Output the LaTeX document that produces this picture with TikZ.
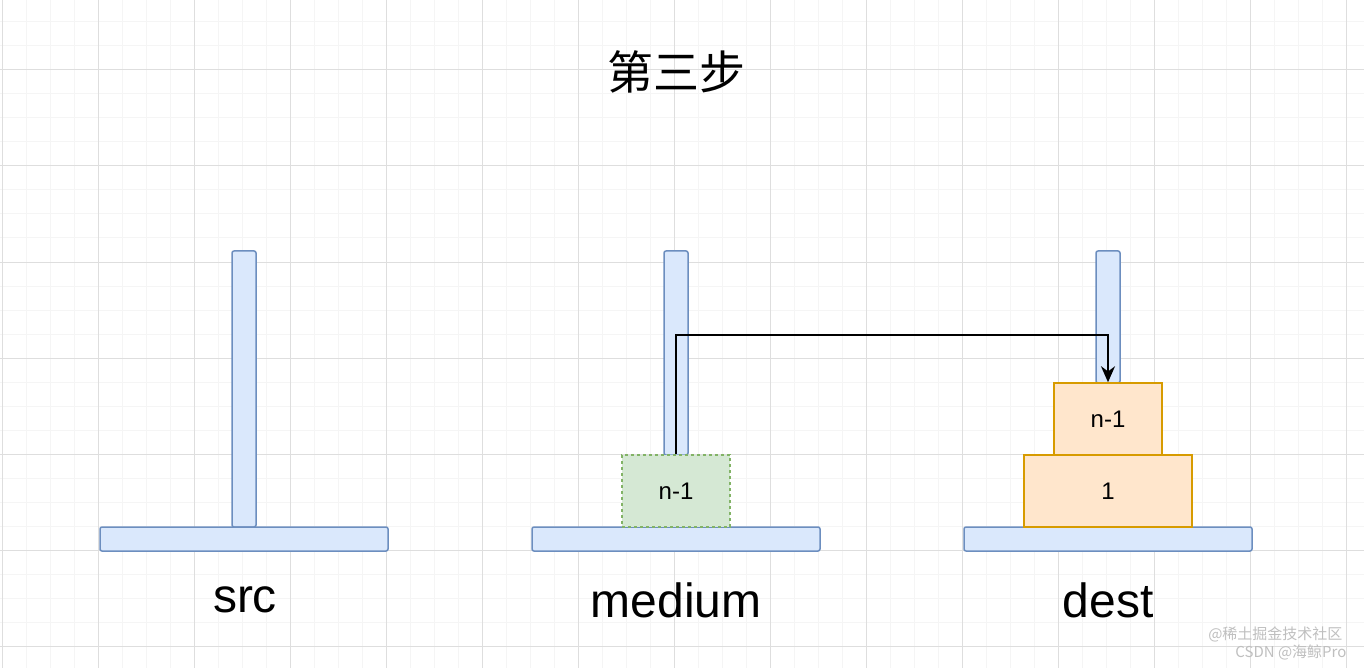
\documentclass[tikz,border=0pt]{standalone}
\usepackage{fontspec}
\setmainfont{Liberation Sans}
\newfontfamily\cjk{Noto Sans CJK SC}
\usetikzlibrary{arrows.meta}
\definecolor{bfill}{HTML}{DAE8FC}\definecolor{bdraw}{HTML}{6C8EBF}
\definecolor{ofill}{HTML}{FFE6CC}\definecolor{odraw}{HTML}{D79B00}
\definecolor{gfill}{HTML}{D5E8D4}\definecolor{gdraw}{HTML}{82B366}
\tikzset{
  rod/.style={draw=bdraw,fill=bfill,line width=1.5pt,rounded corners=2pt},
  disk/.style={draw=odraw,fill=ofill,line width=1.5pt,font=\fontsize{24}{26}\selectfont},
  ghost/.style={draw=gdraw,fill=gfill,line width=1.5pt,dashed,font=\fontsize{24}{26}\selectfont},
  lbl/.style={font=\fontsize{48}{52}\selectfont},
}
\begin{document}
\begin{tikzpicture}[x=1pt,y=-1pt]
\useasboundingbox (0,0) rectangle (1364,668);
\fill[white] (0,0) rectangle (1364,668);
\foreach \x in {2,26,...,1364} \draw[black!4,line width=1pt] (\x,0) -- (\x,668);
\foreach \y in {22,46,...,668} \draw[black!4,line width=1pt] (0,\y) -- (1364,\y);
\foreach \x in {2,98,...,1364} \draw[black!13,line width=1pt] (\x,0) -- (\x,668);
\foreach \y in {70,166,...,668} \draw[black!13,line width=1pt] (0,\y) -- (1364,\y);
\node[font=\cjk\fontsize{46}{50}\selectfont] (title) at (676,72) {第三步};
% rods
\draw[rod] (232,251) rectangle (256,527);
\draw[rod] (100,527) rectangle (388,551);
\draw[rod] (664,251) rectangle (688,455);
\draw[rod] (532,527) rectangle (820,551);
\draw[rod] (1096,251) rectangle (1120,383);
\draw[rod] (964,527) rectangle (1252,551);
% disks
\node[ghost,minimum width=108pt,minimum height=72pt] (g) at (676,491) {n-1};
\node[disk,minimum width=108pt,minimum height=72pt] (d2) at (1108,419) {n-1};
\node[disk,minimum width=168pt,minimum height=72pt] (d1) at (1108,491) {1};
\coordinate (c1) at (676,335);
\coordinate (c2) at (1108,335);
\draw[line width=2pt,-{Stealth[length=16pt,width=14pt]}] (g.north) -- (c1) -- (c2) -- (d2.north);
% labels
\node[lbl] (ls) at (245,600) {src};
\node[lbl] (lm) at (676,600) {medium};
\node[lbl] (ld) at (1108,600) {dest};
\node[font=\cjk\fontsize{15}{16}\selectfont,text=black!25,anchor=east] (w1) at (1346,634) {@稀土掘金技术社区};
\node[font=\cjk\fontsize{15}{16}\selectfont,text=black!25,anchor=east] (w2) at (1350,652) {CSDN @海鲸Pro};
\end{tikzpicture}
\end{document}
